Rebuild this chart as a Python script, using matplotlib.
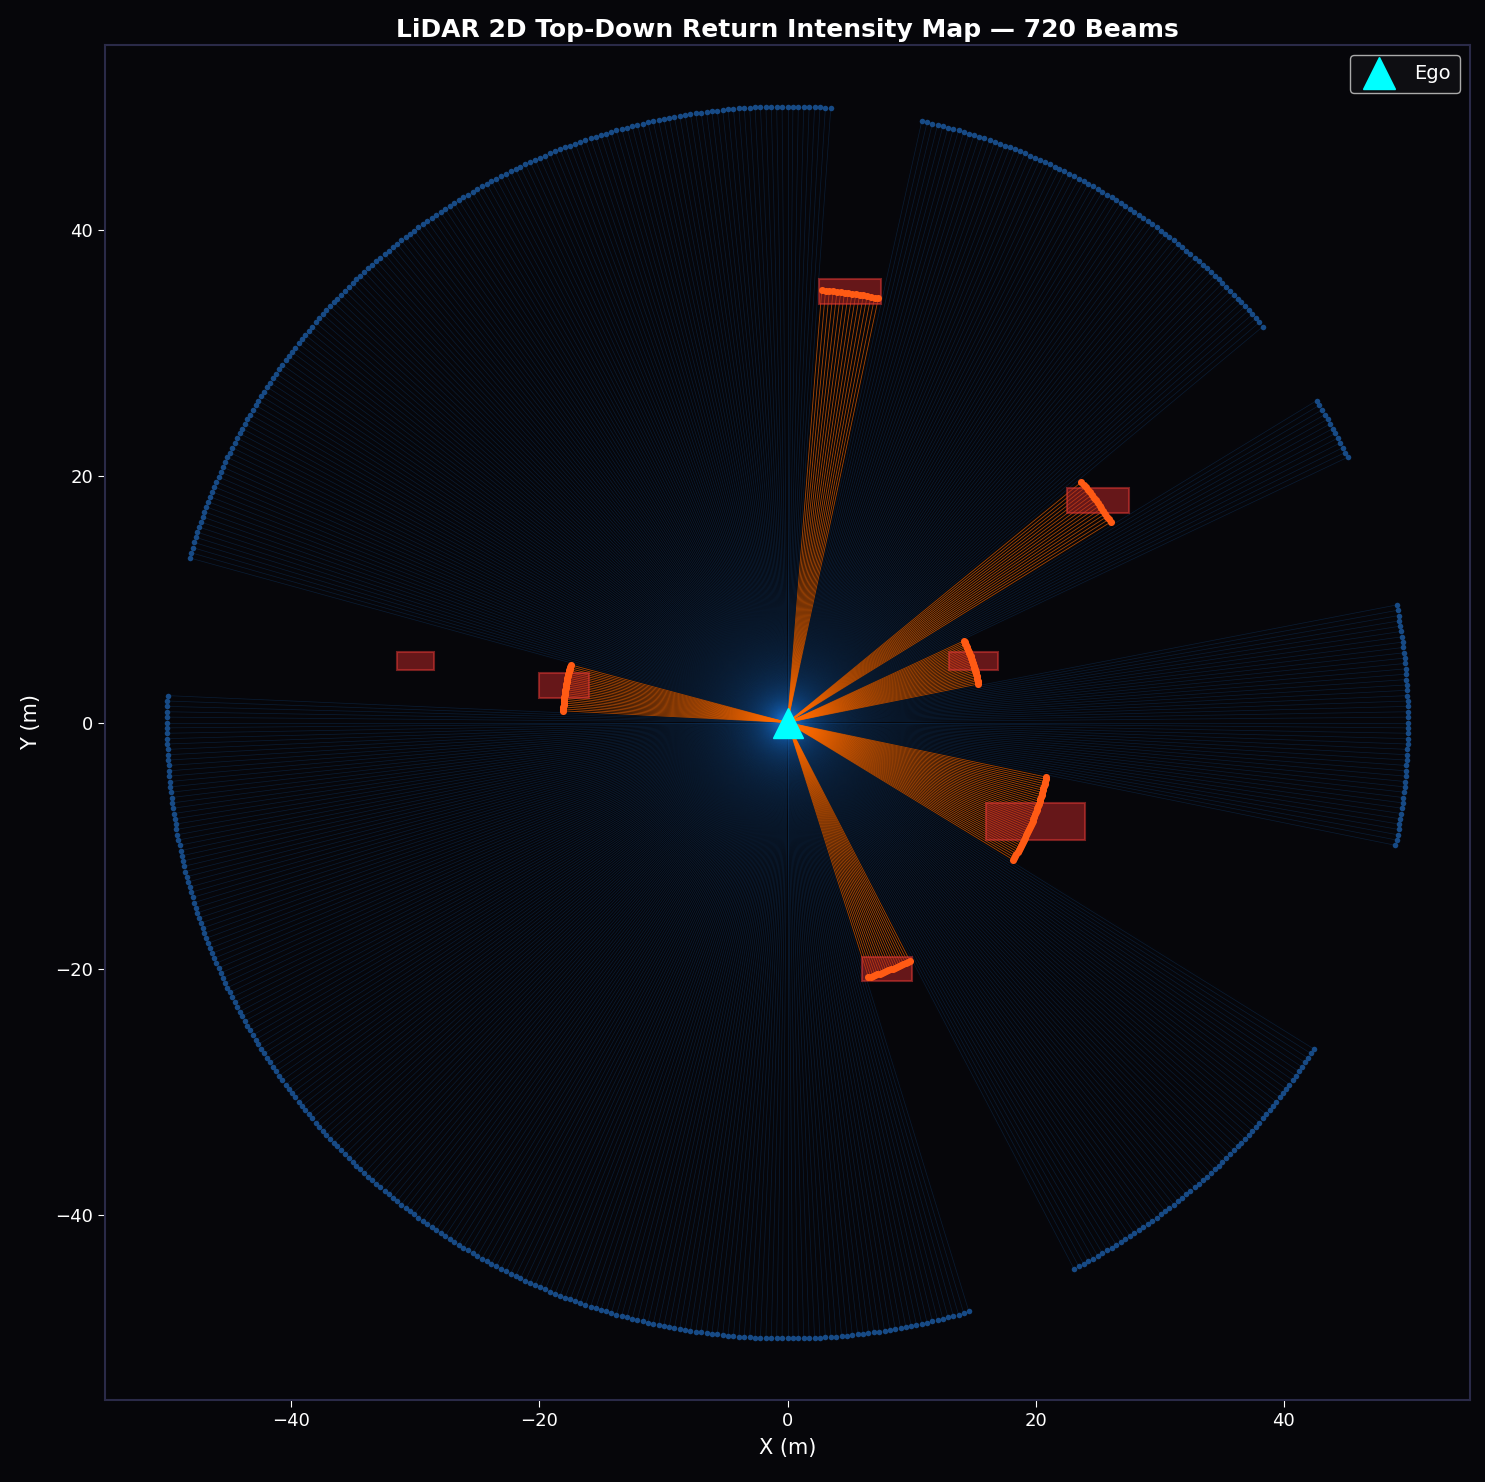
import numpy as np
import matplotlib
matplotlib.use("Agg")
import matplotlib.pyplot as plt
from matplotlib.collections import LineCollection
from matplotlib.patches import Rectangle

# ---- data ----
n_beams = 720
max_range = 50.0

# obstacle boxes (center x, center y, width, height)
box_cx = [5.0, 25.0, -18.0, 15.0, 20.0, 8.0, -30.0]
box_cy = [35.0, 18.0, 3.0, 5.0, -8.0, -20.0, 5.0]
box_w = [5.0, 5.0, 4.0, 4.0, 8.0, 4.0, 3.0]
box_h = [2.0, 2.0, 2.0, 1.5, 3.0, 2.0, 1.5]

# angular sectors (deg) where beams hit an obstacle, and the hit range (m)
hit_start = [78.0, 31.6, 165.0, 11.1, -31.9, -72.5]
hit_end = [85.7, 39.8, 177.2, 25.3, -11.6, -63.0]
hit_range = [35.2, 30.7, 18.1, 15.7, 21.3, 21.7]

# ---- build beams ----
ang = np.linspace(-180.0, 180.0, n_beams, endpoint=False)
rng_ = np.full(n_beams, max_range)
hit = np.zeros(n_beams, dtype=bool)
for s, e, r in zip(hit_start, hit_end, hit_range):
    m = (ang >= s) & (ang <= e)
    rng_[m] = r
    hit |= m
rad = np.deg2rad(ang)
px = rng_ * np.cos(rad)
py = rng_ * np.sin(rad)

bg = "#06060a"
fig = plt.figure(figsize=(14.85, 14.82), dpi=100, facecolor=bg)
ax = fig.add_axes([105 / 1485, 1 - 1400 / 1482, 1365 / 1485, 1355 / 1482])
ax.set_facecolor(bg)

segs_b = [[(0, 0), (x, y)] for x, y, h in zip(px, py, hit) if not h]
segs_o = [[(0, 0), (x, y)] for x, y, h in zip(px, py, hit) if h]
ax.add_collection(LineCollection(segs_b, colors="#1a7ae0", linewidths=0.5, alpha=0.2, zorder=1))
ax.add_collection(LineCollection(segs_o, colors="#ff6a00", linewidths=0.6, alpha=0.65, zorder=2))

for cx, cy, w, h in zip(box_cx, box_cy, box_w, box_h):
    ax.add_patch(Rectangle((cx - w / 2, cy - h / 2), w, h, facecolor="#c62828", alpha=0.5,
                           edgecolor="#e53935", linewidth=1.5, zorder=3))

ax.scatter(px[~hit], py[~hit], s=16, color="#174a85", zorder=4, linewidths=0)
ax.scatter(px[hit], py[hit], s=26, color="#ff5a14", zorder=5, linewidths=0)

ax.plot([0], [0], marker="^", color="cyan", markersize=22, linestyle="none", zorder=6, label="Ego")

ax.set_xlim(-55, 55)
ax.set_ylim(-55, 55)
ax.set_xticks([-40, -20, 0, 20, 40])
ax.set_yticks([-40, -20, 0, 20, 40])
for sp in ax.spines.values():
    sp.set_color("#2a2a48")
    sp.set_linewidth(1.5)
ax.tick_params(colors="white", labelsize=13, length=5)
ax.set_xlabel("X (m)", color="white", fontsize=15, labelpad=6)
ax.set_ylabel("Y (m)", color="white", fontsize=15, labelpad=10)
ax.set_title("LiDAR 2D Top-Down Return Intensity Map \u2014 720 Beams", color="white",
             fontsize=18, fontweight="bold", pad=6)
leg = ax.legend(loc="upper right", facecolor="#0e0e12", edgecolor="#aaaaaa", fontsize=14,
                labelcolor="white", framealpha=1.0, markerscale=1.05, borderpad=0.5)

fig.savefig("out.png", dpi=100, facecolor=bg)
